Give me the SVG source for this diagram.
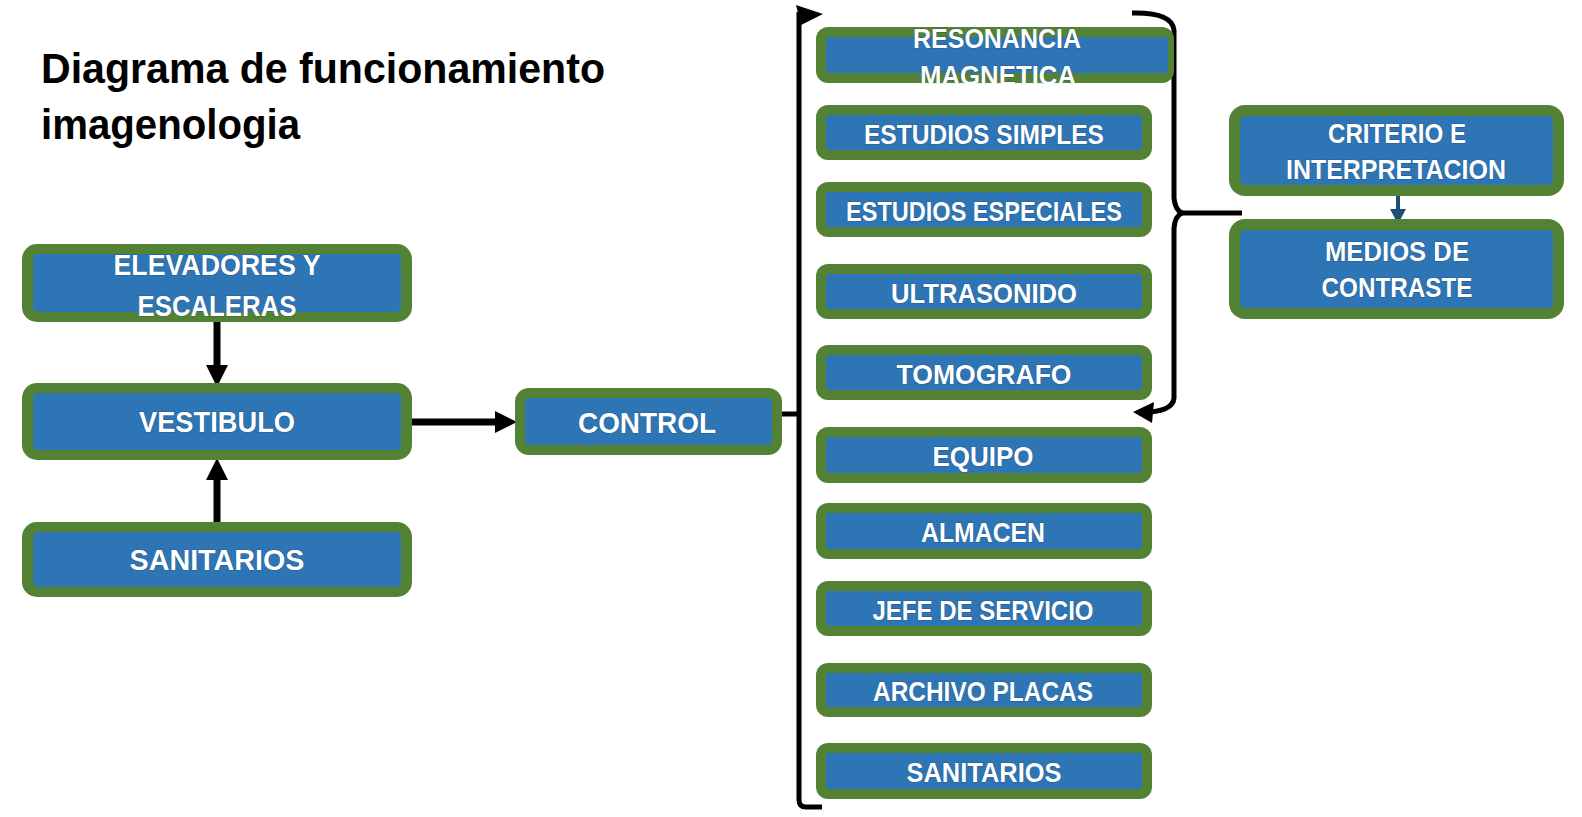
<svg xmlns="http://www.w3.org/2000/svg" width="1582" height="817" viewBox="0 0 1582 817">
<style>
.o{fill:#548235}
.i{fill:#2E75B6}
.t{font-family:"Liberation Sans",Arial,sans-serif;font-weight:bold;fill:#FFFFFF;text-anchor:middle;stroke:#1B3F66;stroke-width:1.2;stroke-opacity:0.45;paint-order:stroke}
.c{font-size:28px}
.l{font-size:30px}
.title{font-family:"Liberation Sans",Arial,sans-serif;font-weight:bold;font-size:42px;fill:#000000}
.k{fill:none;stroke:#000000;stroke-width:5}
.a{stroke:#000000;stroke-width:7}
</style>
<defs>
<marker id="ah" viewBox="0 0 22 22" refX="0" refY="11" markerWidth="22" markerHeight="22" markerUnits="userSpaceOnUse" orient="auto">
<path d="M0,0 L22,11 L0,22 z" fill="#000000"/>
</marker>
<clipPath id="clipRes"><rect x="800" y="0" width="400" height="84"/></clipPath>
</defs>
<rect width="1582" height="817" fill="#FFFFFF"/>
<g id="title">
<text class="title" x="41" y="83" textLength="564" lengthAdjust="spacingAndGlyphs">Diagrama de funcionamiento</text>
<text class="title" x="41" y="139" textLength="259" lengthAdjust="spacingAndGlyphs">imagenologia</text>
</g>
<g id="connectors">
<line class="a" x1="217" y1="317" x2="217" y2="365" marker-end="url(#ah)"/>
<line class="a" x1="217" y1="527" x2="217" y2="480" marker-end="url(#ah)"/>
<line class="a" x1="407" y1="422" x2="495" y2="422" marker-end="url(#ah)"/>
<line class="k" x1="749" y1="414" x2="799" y2="414"/>
<path class="k" d="M822,807 L806,807 Q799,807 799,800 L799,12"/>
<polygon points="796,5 823,14 801,25" fill="#000000"/>
<path class="k" stroke-width="6" d="M1132,13 Q1172,12 1174,30 L1174,198 Q1175,210 1182,213 Q1175,216 1174,228 L1174,398 Q1173,410 1150,412"/>
<line class="k" stroke-width="6" x1="1180" y1="213" x2="1242" y2="213"/>
<polygon points="1133,412 1154,402 1152,423" fill="#000000"/>
<line x1="1398" y1="192" x2="1398" y2="211" stroke="#1F4E79" stroke-width="4"/>
<polygon points="1390,209 1406,209 1398,224" fill="#1F4E79"/>
</g>
<g id="elevadores">
<rect class="o" x="22" y="244" width="390" height="78" rx="15"/>
<rect class="i" x="33" y="254" width="368" height="58" rx="5"/>
<text class="t l" x="217" y="275" textLength="207" lengthAdjust="spacingAndGlyphs">ELEVADORES Y</text>
<text class="t l" x="217" y="316" textLength="159" lengthAdjust="spacingAndGlyphs">ESCALERAS</text>
</g>
<g id="vestibulo">
<rect class="o" x="22" y="383" width="390" height="77" rx="15"/>
<rect class="i" x="33" y="393" width="368" height="57" rx="5"/>
<text class="t l" x="217" y="432" textLength="156" lengthAdjust="spacingAndGlyphs">VESTIBULO</text>
</g>
<g id="sanitarios-left">
<rect class="o" x="22" y="522" width="390" height="75" rx="15"/>
<rect class="i" x="33" y="532" width="368" height="55" rx="5"/>
<text class="t l" x="217" y="570" textLength="175" lengthAdjust="spacingAndGlyphs">SANITARIOS</text>
</g>
<g id="control">
<rect class="o" x="515" y="388" width="267" height="67" rx="14"/>
<rect class="i" x="525" y="398" width="247" height="47" rx="4"/>
<text class="t l" x="647" y="433" textLength="138" lengthAdjust="spacingAndGlyphs">CONTROL</text>
</g>
<g id="resonancia">
<rect class="o" x="816" y="27" width="358" height="56" rx="12"/>
<rect class="i" x="826" y="37" width="342" height="36" rx="3"/>
<g clip-path="url(#clipRes)">
<text class="t c" x="997" y="48" textLength="168" lengthAdjust="spacingAndGlyphs">RESONANCIA</text>
<text class="t c" x="998" y="85" textLength="156" lengthAdjust="spacingAndGlyphs">MAGNETICA</text>
</g>
</g>
<g id="estudios-simples">
<rect class="o" x="816" y="105" width="336" height="55" rx="12"/>
<rect class="i" x="826" y="115" width="316" height="35" rx="3"/>
<text class="t c" x="984" y="143.5" textLength="240" lengthAdjust="spacingAndGlyphs">ESTUDIOS SIMPLES</text>
</g>
<g id="estudios-especiales">
<rect class="o" x="816" y="182" width="336" height="55" rx="12"/>
<rect class="i" x="826" y="192" width="316" height="35" rx="3"/>
<text class="t c" x="984" y="220.5" textLength="276" lengthAdjust="spacingAndGlyphs">ESTUDIOS ESPECIALES</text>
</g>
<g id="ultrasonido">
<rect class="o" x="816" y="264" width="336" height="55" rx="12"/>
<rect class="i" x="826" y="274" width="316" height="35" rx="3"/>
<text class="t c" x="984" y="302.5" textLength="186" lengthAdjust="spacingAndGlyphs">ULTRASONIDO</text>
</g>
<g id="tomografo">
<rect class="o" x="816" y="345" width="336" height="55" rx="12"/>
<rect class="i" x="826" y="355" width="316" height="35" rx="3"/>
<text class="t c" x="984" y="383.5" textLength="175" lengthAdjust="spacingAndGlyphs">TOMOGRAFO</text>
</g>
<g id="equipo">
<rect class="o" x="816" y="427" width="336" height="56" rx="12"/>
<rect class="i" x="826" y="437" width="316" height="36" rx="3"/>
<text class="t c" x="983" y="466" textLength="101" lengthAdjust="spacingAndGlyphs">EQUIPO</text>
</g>
<g id="almacen">
<rect class="o" x="816" y="503" width="336" height="56" rx="12"/>
<rect class="i" x="826" y="513" width="316" height="36" rx="3"/>
<text class="t c" x="983" y="542" textLength="124" lengthAdjust="spacingAndGlyphs">ALMACEN</text>
</g>
<g id="jefe-servicio">
<rect class="o" x="816" y="581" width="336" height="55" rx="12"/>
<rect class="i" x="826" y="591" width="316" height="35" rx="3"/>
<text class="t c" x="983" y="619.5" textLength="221" lengthAdjust="spacingAndGlyphs">JEFE DE SERVICIO</text>
</g>
<g id="archivo-placas">
<rect class="o" x="816" y="663" width="336" height="54" rx="12"/>
<rect class="i" x="826" y="673" width="316" height="34" rx="3"/>
<text class="t c" x="983" y="701" textLength="220" lengthAdjust="spacingAndGlyphs">ARCHIVO PLACAS</text>
</g>
<g id="sanitarios-right">
<rect class="o" x="816" y="743" width="336" height="56" rx="12"/>
<rect class="i" x="826" y="753" width="316" height="36" rx="3"/>
<text class="t c" x="984" y="782" textLength="155" lengthAdjust="spacingAndGlyphs">SANITARIOS</text>
</g>
<g id="criterio">
<rect class="o" x="1229" y="105" width="335" height="91" rx="16"/>
<rect class="i" x="1240" y="116" width="313" height="69" rx="5"/>
<text class="t c" x="1397" y="143" textLength="138" lengthAdjust="spacingAndGlyphs">CRITERIO E</text>
<text class="t c" x="1396" y="179" textLength="220" lengthAdjust="spacingAndGlyphs">INTERPRETACION</text>
</g>
<g id="medios-contraste">
<rect class="o" x="1229" y="219" width="335" height="100" rx="16"/>
<rect class="i" x="1240" y="230" width="313" height="78" rx="5"/>
<text class="t c" x="1397" y="261" textLength="144" lengthAdjust="spacingAndGlyphs">MEDIOS DE</text>
<text class="t c" x="1397" y="297" textLength="151" lengthAdjust="spacingAndGlyphs">CONTRASTE</text>
</g>
</svg>
